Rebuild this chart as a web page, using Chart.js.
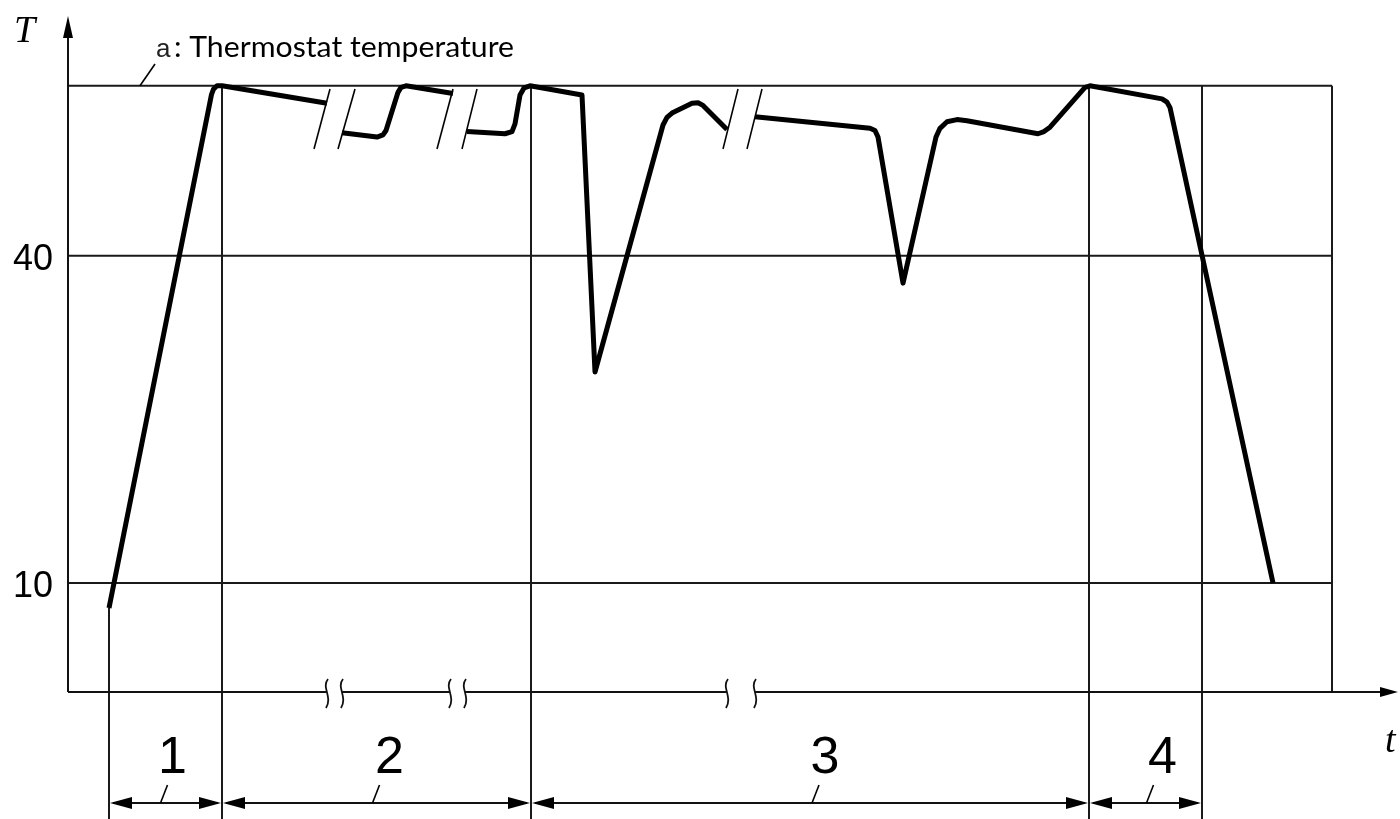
<!DOCTYPE html>
<html>
<head>
<meta charset="utf-8">
<title>Thermostat temperature profile</title>
<script src="https://cdn.jsdelivr.net/npm/chart.js@4.4.1/dist/chart.umd.min.js"></script>
<style>
  html, body { margin: 0; padding: 0; background: #fff; }
  #chart { display: block; }
</style>
</head>
<body>
<canvas id="chart" width="1400" height="819"></canvas>
<script>
// ===== Data (t in arbitrary time units, T in degrees) =====
const thermostatT = 55.6;
const gridT = [10, 40];
const tickLabels = ['10', '40'];
const boxRightT = 126.4;
const phaseBounds = [4.1, 15.4, 46.3, 102.1, 113.4];
const phaseLabels = ['1', '2', '3', '4'];
const axisBreaks = [[25.9, 27.4], [38.2, 39.7], [65.9, 68.7]];

// curve pieces, split where the time axis is broken
const seg1_t = [4.1, 14.35, 14.55, 14.9, 15.4, 25.9];
const seg1_T = [7.7, 54.8, 55.3, 55.6, 55.6, 54.0];

const seg2_t = [27.4, 30.9, 31.5, 31.8, 33.0, 33.3, 33.8, 38.5];
const seg2_T = [51.3, 50.9, 51.1, 51.5, 55.0, 55.45, 55.6, 54.9];

const seg3_t = [39.9, 43.7, 44.4, 44.7, 45.2, 45.6, 46.2, 51.4, 52.7, 59.5, 59.9, 60.4, 62.4, 63.0, 63.5, 65.9];
const seg3_T = [51.4, 51.2, 51.4, 52.1, 54.75, 55.4, 55.6, 54.75, 29.35, 52.0, 52.7, 53.1, 54.0, 54.05, 53.8, 51.6];

const seg4_t = [68.7, 80.2, 80.7, 81.0, 83.5, 86.8, 87.2, 87.9, 88.9, 89.9, 97.0, 97.6, 98.2, 101.7, 102.2, 109.4, 109.9, 110.2, 120.5];
const seg4_T = [52.75, 51.7, 51.5, 50.9, 37.5, 50.9, 51.7, 52.3, 52.5, 52.4, 51.2, 51.4, 51.8, 55.45, 55.6, 54.4, 54.1, 53.6, 10.0];

// break slashes on the curve: [t at bottom, t at top]
const slashes = [[24.6, 26.2], [27.0, 28.7], [36.9, 38.5], [39.4, 40.9], [65.5, 67.0], [67.9, 69.4]];
const slashLowT = 49.8;
const slashHighT = 55.3;

// ===== Helpers =====
function toPoints(ts, Ts) {
    return ts.map((t, i) => ({ x: t, y: Ts[i] }));
}

function line(ctx, x1, y1, x2, y2) {
    ctx.beginPath();
    ctx.moveTo(x1, y1);
    ctx.lineTo(x2, y2);
    ctx.stroke();
}

function arrowHead(ctx, tipX, tipY, dirX, dirY, len, half) {
    // dir is a unit vector pointing towards the tip
    const bx = tipX - dirX * len, by = tipY - dirY * len;
    ctx.beginPath();
    ctx.moveTo(tipX, tipY);
    ctx.lineTo(bx - dirY * half, by + dirX * half);
    ctx.lineTo(bx + dirY * half, by - dirX * half);
    ctx.closePath();
    ctx.fill();
}

function squiggle(ctx, cx, top, bottom) {
    const h = bottom - top;
    ctx.beginPath();
    ctx.moveTo(cx + 1, top);
    ctx.bezierCurveTo(cx - 6, top + h * 0.3, cx + 6, top + h * 0.6, cx - 1, bottom);
    ctx.stroke();
}

// ===== Plugin: axes, grid, phases, labels =====
const diagramPlugin = {
    id: 'diagram',
    beforeDatasetsDraw(chart) {
        const { ctx, scales: { x, y } } = chart;
        const px = v => x.getPixelForValue(v);
        const py = v => y.getPixelForValue(v);
        const H = chart.height;
        ctx.save();
        ctx.strokeStyle = '#1a1a1a';
        ctx.fillStyle = '#000';
        ctx.lineWidth = 2;

        // grid lines and box
        const boxR = px(boxRightT);
        gridT.forEach(v => line(ctx, px(0), py(v), boxR, py(v)));
        line(ctx, px(0), py(thermostatT), boxR, py(thermostatT));
        line(ctx, boxR, py(thermostatT), boxR, py(0));

        // phase boundaries
        phaseBounds.forEach((t, i) => {
            const top = i === 0 ? py(seg1_T[0]) : py(thermostatT);
            line(ctx, px(t), top, px(t), H);
        });

        // y axis with arrow
        ctx.strokeStyle = '#111';
        line(ctx, px(0), py(0), px(0), py(y.max) + 12);
        arrowHead(ctx, px(0), py(y.max), 0, -1, 22, 5);

        // x axis with breaks and arrow
        let start = 0;
        axisBreaks.forEach(([a, b]) => {
            line(ctx, px(start), py(0), px(a), py(0));
            start = b;
        });
        line(ctx, px(start), py(0), px(x.max) - 10, py(0));
        arrowHead(ctx, px(x.max), py(0), 1, 0, 18, 5);
        ctx.lineWidth = 1.8;
        axisBreaks.forEach(([a, b]) => {
            squiggle(ctx, px(a), py(0) - 13, py(0) + 16);
            squiggle(ctx, px(b), py(0) - 13, py(0) + 16);
        });

        // dimension arrows under the axis
        const dimY = 803;
        ctx.lineWidth = 2;
        for (let i = 0; i < phaseLabels.length; i++) {
            const a = px(phaseBounds[i]), b = px(phaseBounds[i + 1]);
            line(ctx, a + 4, dimY, b - 4, dimY);
            arrowHead(ctx, a + 1, dimY, -1, 0, 22, 6);
            arrowHead(ctx, b - 1, dimY, 1, 0, 22, 6);
        }
        ctx.restore();
    },
    afterDraw(chart) {
        const { ctx, scales: { x, y } } = chart;
        const px = v => x.getPixelForValue(v);
        const py = v => y.getPixelForValue(v);
        ctx.save();
        ctx.fillStyle = '#000';
        ctx.strokeStyle = '#000';

        // tick labels
        ctx.font = '36px "Liberation Sans", Arial, sans-serif';
        ctx.textAlign = 'right';
        ctx.textBaseline = 'alphabetic';
        gridT.forEach((v, i) => ctx.fillText(tickLabels[i], 53, py(v) + 14));

        // axis titles
        ctx.font = 'italic 38px "Liberation Serif", "DejaVu Serif", serif';
        ctx.textAlign = 'left';
        ctx.fillText('T', 14, 42);
        ctx.fillText('t', 1385, 752);

        // phase labels with leaders
        const labelShift = [7, 13, 15, 17];
        const leaderShift = [-5, -4, 2, 1];
        ctx.font = '52px "Liberation Sans", Arial, sans-serif';
        ctx.textAlign = 'center';
        ctx.lineWidth = 1.6;
        for (let i = 0; i < phaseLabels.length; i++) {
            const mid = (px(phaseBounds[i]) + px(phaseBounds[i + 1])) / 2;
            ctx.fillText(phaseLabels[i], mid + labelShift[i], 773);
            const lx = mid + leaderShift[i];
            line(ctx, lx, 803, lx + 7, 785);
        }

        // thermostat label and leader
        line(ctx, 140, py(thermostatT), 155, 64);
        ctx.textAlign = 'left';
        ctx.font = '26px "Liberation Sans", Arial, sans-serif';
        ctx.fillStyle = '#222';
        ctx.fillText('a', 156, 57);
        ctx.fillStyle = '#000';
        ctx.font = '28px Lato, "Open Sans", sans-serif';
        const txt = ': Thermostat temperature';
        const w = ctx.measureText(txt).width;
        ctx.save();
        ctx.translate(174, 57);
        ctx.scale(340 / w, 1);
        ctx.fillText(txt, 0, 0);
        ctx.restore();
        ctx.restore();
    }
};

// ===== Datasets =====
const curveStyle = {
    showLine: true,
    borderColor: '#000',
    borderWidth: 5,
    pointRadius: 0,
    fill: false,
    tension: 0,
    borderJoinStyle: 'round',
    borderCapStyle: 'butt'
};

const datasets = [
    { data: toPoints(seg1_t, seg1_T), ...curveStyle },
    { data: toPoints(seg2_t, seg2_T), ...curveStyle },
    { data: toPoints(seg3_t, seg3_T), ...curveStyle },
    { data: toPoints(seg4_t, seg4_T), ...curveStyle }
];
slashes.forEach(([lo, hi]) => {
    datasets.push({
        data: [{ x: lo, y: slashLowT }, { x: hi, y: slashHighT }],
        showLine: true,
        borderColor: '#000',
        borderWidth: 1.6,
        pointRadius: 0,
        fill: false
    });
});

const ctx = document.getElementById('chart').getContext('2d');
window._profileChart = new Chart(ctx, {
    type: 'scatter',
    data: { datasets },
    options: {
        responsive: false,
        animation: false,
        devicePixelRatio: 1,
        layout: { padding: { left: 68, right: 2, top: 16, bottom: 127 } },
        scales: {
            x: { type: 'linear', min: 0, max: 133, display: false },
            y: { type: 'linear', min: 0, max: 62, display: false }
        },
        plugins: {
            legend: { display: false },
            tooltip: { enabled: false }
        }
    },
    plugins: [diagramPlugin]
});
</script>
</body>
</html>
